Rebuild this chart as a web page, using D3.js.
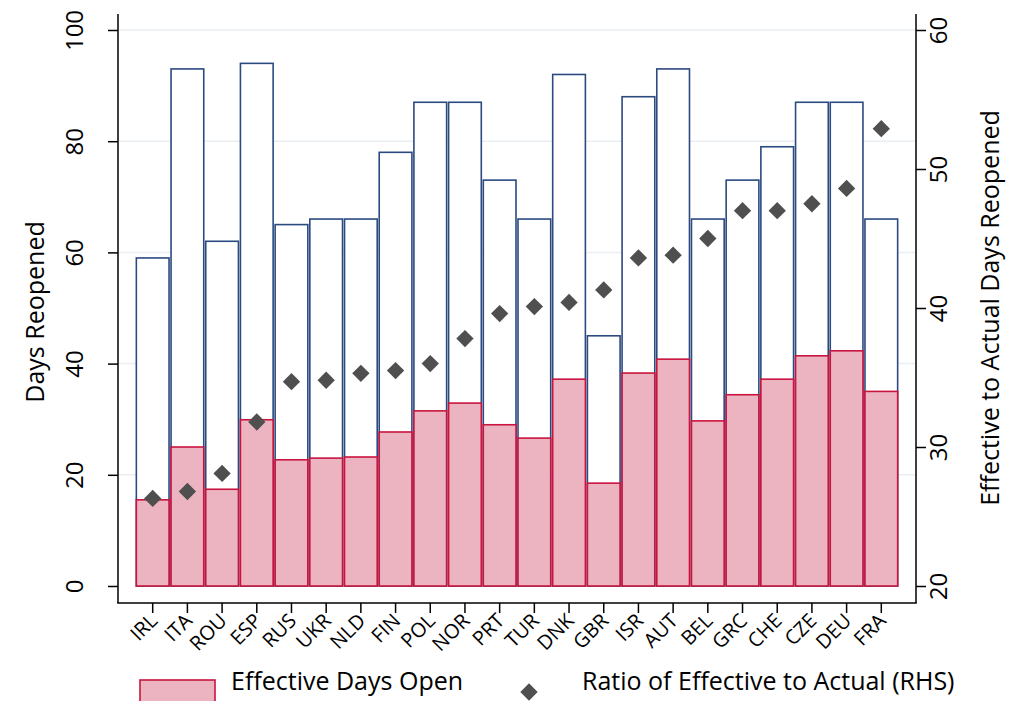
<!DOCTYPE html>
<html>
<head>
<meta charset="utf-8">
<script src="https://cdn.jsdelivr.net/npm/d3@7"></script>
<style>
  body { margin: 0; background: #fff; }
  svg { font-family: "Open Sans", "Noto Sans", sans-serif; }
</style>
</head>
<body>
<div id="chart"></div>
<script>
// countries, ordered by ratio
const countries = ["IRL", "ITA", "ROU", "ESP", "RUS", "UKR", "NLD", "FIN", "POL", "NOR", "PRT",
    "TUR", "DNK", "GBR", "ISR", "AUT", "BEL", "GRC", "CHE", "CZE", "DEU", "FRA"];
// actual days reopened (outline bars)
const actualDays = [59, 93, 62, 94, 65, 66, 66, 78, 87, 87, 73, 66, 92, 45, 88, 93, 66, 73, 79, 87, 87, 66];
// effective days open (pink bars)
const effectiveDays = [15.5, 25, 17.4, 29.9, 22.7, 23, 23.2, 27.7, 31.5, 32.9, 29, 26.6, 37.2, 18.5,
    38.3, 40.8, 29.7, 34.4, 37.2, 41.4, 42.3, 35];
// ratio of effective to actual, right axis
const ratio = [26.3, 26.8, 28.1, 31.8, 34.7, 34.8, 35.3, 35.5, 36.0, 37.8, 39.6, 40.1, 40.4, 41.3,
    43.6, 43.8, 45.0, 47.0, 47.0, 47.5, 48.6, 52.9];
const leftTicks = [0, 20, 40, 60, 80, 100];
const rightTicks = [20, 30, 40, 50, 60];

const W = 1025, H = 701;
const left = 118, right = 916, axisBottom = 603, yTop = 30, yZero = 586;

const svg = d3.select("#chart").append("svg")
    .attr("width", W)
    .attr("height", H);

const x = d3.scaleBand()
    .domain(countries)
    .range([left, right])
    .paddingInner(0)
    .paddingOuter(0.5);

const yL = d3.scaleLinear().domain([0, 100]).range([yZero, yTop]);
const yR = d3.scaleLinear().domain([20, 60]).range([yZero, yTop]);

// gridlines
svg.append("g")
    .selectAll("line")
    .data(leftTicks.slice(1))
    .enter()
    .append("line")
    .attr("x1", left + 1)
    .attr("x2", right - 1)
    .attr("y1", d => yL(d))
    .attr("y2", d => yL(d))
    .attr("stroke", "#e8eef1")
    .attr("stroke-width", 1.5);

const bw = x.bandwidth();

// actual days bars
svg.append("g")
    .selectAll("rect")
    .data(countries)
    .enter()
    .append("rect")
    .attr("x", d => x(d) + 1)
    .attr("width", bw - 2)
    .attr("y", (d, i) => yL(actualDays[i]))
    .attr("height", (d, i) => yL(0) - yL(actualDays[i]))
    .attr("fill", "#fff")
    .attr("stroke", "#2b4a80")
    .attr("stroke-width", 1.6);

// effective days bars
svg.append("g")
    .selectAll("rect")
    .data(countries)
    .enter()
    .append("rect")
    .attr("x", d => x(d) + 1)
    .attr("width", bw - 2)
    .attr("y", (d, i) => yL(effectiveDays[i]))
    .attr("height", (d, i) => yL(0) - yL(effectiveDays[i]))
    .attr("fill", "#ecb3c1")
    .attr("stroke", "#c9143f")
    .attr("stroke-width", 1.6);

// ratio diamonds
const diamond = d3.symbol().type(d3.symbolSquare).size(150);
svg.append("g")
    .selectAll("path")
    .data(countries)
    .enter()
    .append("path")
    .attr("d", diamond)
    .attr("transform", (d, i) => `translate(${x(d) + bw / 2},${yR(ratio[i])}) rotate(45)`)
    .attr("fill", "#4f4f4f");

// axis lines
svg.append("line").attr("x1", left).attr("x2", left).attr("y1", 14).attr("y2", axisBottom)
    .attr("stroke", "#000").attr("stroke-width", 1.5);
svg.append("line").attr("x1", right).attr("x2", right).attr("y1", 14).attr("y2", axisBottom)
    .attr("stroke", "#000").attr("stroke-width", 1.5);
svg.append("line").attr("x1", left - 0.75).attr("x2", right + 0.75).attr("y1", axisBottom).attr("y2", axisBottom)
    .attr("stroke", "#000").attr("stroke-width", 1.5);

// left axis
const gL = svg.append("g")
    .attr("transform", `translate(${left},0)`)
    .call(d3.axisLeft(yL).tickValues(leftTicks).tickSize(10).tickFormat(d3.format("d")));
gL.select(".domain").remove();
gL.selectAll(".tick line").attr("stroke-width", 1.5);
gL.selectAll(".tick text")
    .attr("x", 0).attr("dy", 0)
    .attr("transform", "translate(-35,0) rotate(-90)")
    .attr("text-anchor", "middle")
    .attr("font-size", 24)
    .attr("font-family", "Open Sans")
    .attr("fill", "#000");

// right axis
const gR = svg.append("g")
    .attr("transform", `translate(${right},0)`)
    .call(d3.axisRight(yR).tickValues(rightTicks).tickSize(10).tickFormat(d3.format("d")));
gR.select(".domain").remove();
gR.selectAll(".tick line").attr("stroke-width", 1.5);
gR.selectAll(".tick text")
    .attr("x", 0).attr("dy", 0)
    .attr("transform", "translate(31,0) rotate(-90)")
    .attr("text-anchor", "middle")
    .attr("font-size", 24)
    .attr("font-family", "Open Sans")
    .attr("fill", "#000");

// bottom axis
const gB = svg.append("g")
    .attr("transform", `translate(0,${axisBottom})`)
    .call(d3.axisBottom(x).tickSize(10));
gB.select(".domain").remove();
gB.selectAll(".tick line").attr("stroke-width", 1.5);
gB.selectAll(".tick text")
    .attr("x", 0).attr("y", 0).attr("dy", 0)
    .attr("transform", "translate(6,19) rotate(-45)")
    .attr("text-anchor", "end")
    .attr("font-size", 20)
    .attr("font-family", "Open Sans")
    .attr("fill", "#000");

// axis titles
svg.append("text")
    .attr("transform", `translate(44,${(yTop + yZero) / 2 + 4}) rotate(-90)`)
    .attr("text-anchor", "middle")
    .attr("font-size", 25)
    .text("Days Reopened");
svg.append("text")
    .attr("transform", `translate(999,${(yTop + yZero) / 2}) rotate(-90)`)
    .attr("text-anchor", "middle")
    .attr("font-size", 25)
    .text("Effective to Actual Days Reopened");

// legend
const leg = svg.append("g");
leg.append("rect")
    .attr("x", 140).attr("y", 680).attr("width", 75).attr("height", 30)
    .attr("fill", "#ecb3c1").attr("stroke", "#c9143f").attr("stroke-width", 1.6);
leg.append("text")
    .attr("x", 231).attr("y", 690)
    .attr("font-size", 25)
    .text("Effective Days Open");
leg.append("path")
    .attr("d", diamond)
    .attr("transform", "translate(529,692) rotate(45)")
    .attr("fill", "#4f4f4f");
leg.append("text")
    .attr("x", 582).attr("y", 690)
    .attr("font-size", 25)
    .text("Ratio of Effective to Actual (RHS)");
</script>
</body>
</html>
